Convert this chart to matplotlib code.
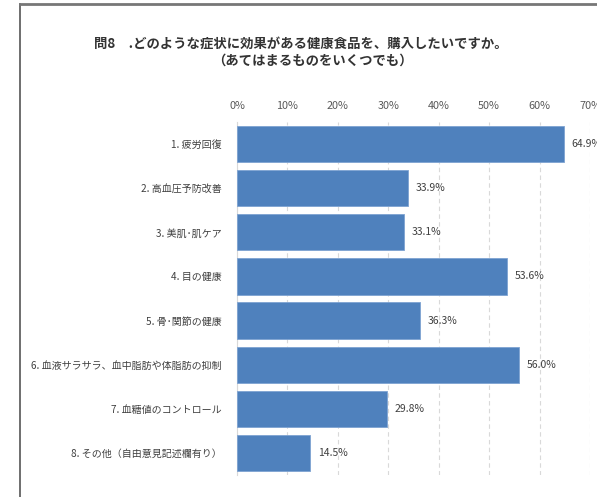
import matplotlib
matplotlib.use("Agg")
import matplotlib.pyplot as plt
from matplotlib.lines import Line2D

plt.rcParams['font.family'] = ['Noto Sans CJK JP', 'DejaVu Sans']

categories = ["1. 疲労回復", "2. 高血圧予防改善", "3. 美肌･肌ケア", "4. 目の健康",
              "5. 骨･関節の健康", "6. 血液サラサラ、血中脂肪や体脂肪の抑制",
              "7. 血糖値のコントロール", "8. その他（自由意見記述欄有り）"]
values = [64.9, 33.9, 33.1, 53.6, 36.3, 56.0, 29.8, 14.5]
xticks = [0, 10, 20, 30, 40, 50, 60, 70]
xticklabels = ["0%", "10%", "20%", "30%", "40%", "50%", "60%", "70%"]

fig = plt.figure(figsize=(5.97, 4.97), dpi=100)
ax = fig.add_axes([237/597, 1-475/497, (590-237)/597, (475-122)/497])

ypos = list(range(len(categories)))
ax.barh(ypos, values, height=0.82, color="#4F81BD", edgecolor="#7EA3D2", linewidth=0.6, zorder=3)
for y, v in zip(ypos, values):
    ax.text(v + 1.5, y, f"{v:.1f}%", va="center", ha="left", fontsize=7.5, color="#404040", clip_on=False)

ax.set_ylim(len(categories) - 0.5, -0.5)
ax.set_xlim(0, 70)
ax.set_yticks(ypos)
ax.set_yticklabels(categories, fontsize=7.2, color="#404040")
ax.set_xticks(xticks)
ax.set_xticklabels(xticklabels, fontsize=7.8, color="#595959")
ax.xaxis.tick_top()
ax.tick_params(axis="both", length=0)
ax.tick_params(axis="x", pad=8)
ax.tick_params(axis="y", pad=11)
ax.grid(axis="x", linestyle=(0, (4, 3)), color="#D9D9D9", linewidth=0.8, zorder=0)
for s in ["top", "right", "bottom"]:
    ax.spines[s].set_visible(False)
ax.spines["left"].set_color("#D9D9D9")
ax.spines["left"].set_linewidth(0.8)

fig.text(301/597, 1-44/497, "問8　.どのような症状に効果がある健康食品を、購入したいですか。",
         ha="center", va="center", fontsize=9.6, fontweight="bold", color="#333333")
fig.text(312/597, 1-61/497, "（あてはまるものをいくつでも）",
         ha="center", va="center", fontsize=9.6, fontweight="bold", color="#333333")

bx = 20/597
by = 1 - 4/497
fig.add_artist(Line2D([bx, bx], [0, by], transform=fig.transFigure, color="#555555", linewidth=1.2))
fig.add_artist(Line2D([bx, 1], [by, by], transform=fig.transFigure, color="#777777", linewidth=2))

fig.savefig("out.png", dpi=100)
